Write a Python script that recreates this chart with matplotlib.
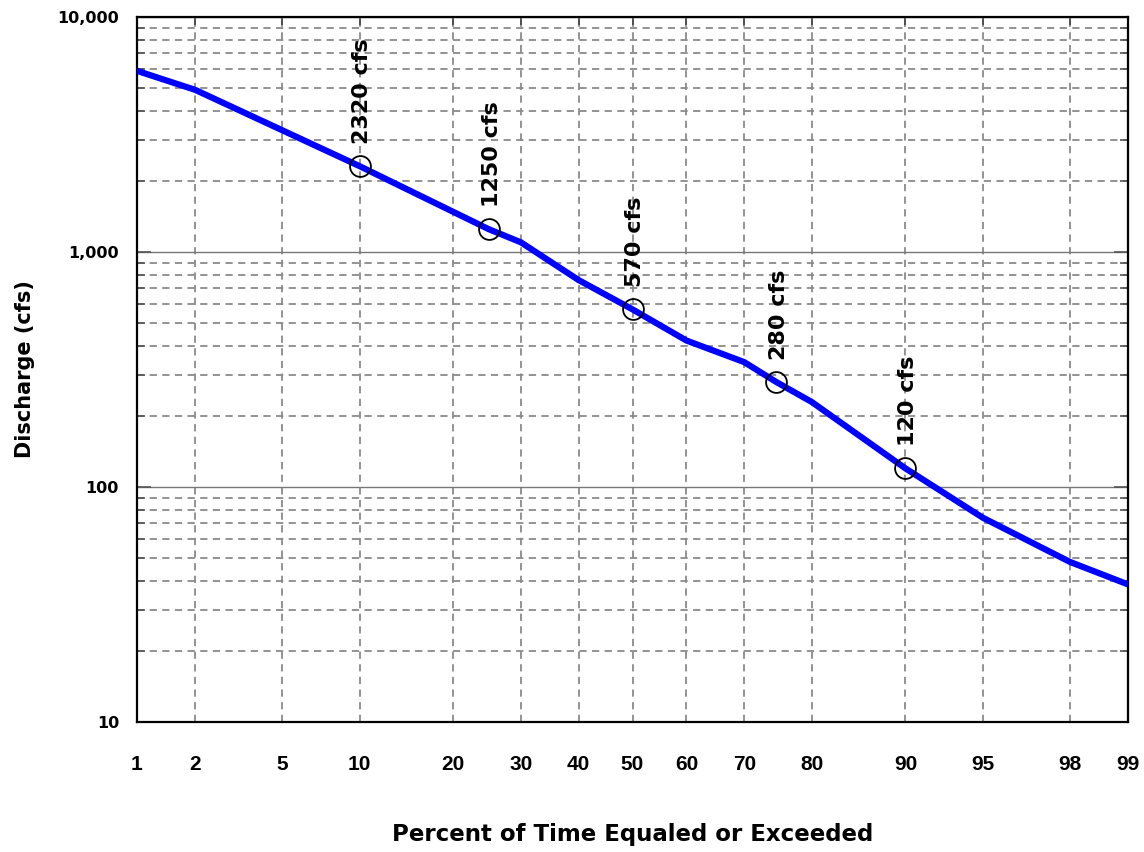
import numpy as np
import matplotlib
matplotlib.use("Agg")
import matplotlib.pyplot as plt
from matplotlib.ticker import FixedLocator, NullFormatter
from statistics import NormalDist

# Flow-duration data: percent of time equaled or exceeded vs discharge (cfs)
exceed_pct = [1, 2, 10, 25, 30, 40, 50, 60, 70, 75, 80, 90, 95, 98, 99]
discharge = [5900, 4900, 2320, 1250, 1100, 760, 570, 420, 340, 280, 230, 120, 74, 48, 38.5]

# Highlighted duration points
label_pct = [10, 25, 50, 75, 90]
label_cfs = [2320, 1250, 570, 280, 120]

x_ticks = [1, 2, 5, 10, 20, 30, 40, 50, 60, 70, 80, 90, 95, 98, 99]
y_ticks = [10, 100, 1000, 10000]

_nd = NormalDist()
_ppf = np.vectorize(lambda p: _nd.inv_cdf(min(max(p / 100.0, 1e-9), 1 - 1e-9)), otypes=[float])
_cdf = np.vectorize(lambda z: _nd.cdf(z) * 100.0, otypes=[float])


def prob_forward(x):
    return _ppf(np.asarray(x, dtype=float))


def prob_inverse(z):
    return _cdf(np.asarray(z, dtype=float))


fig = plt.figure(figsize=(11.44, 8.52), dpi=100)
ax = fig.add_axes([137 / 1144, 1 - 722 / 852, (1128 - 137) / 1144, (722 - 17) / 852])

ax.set_xscale("function", functions=(prob_forward, prob_inverse))
ax.set_yscale("log")
ax.set_xlim(1, 99)
ax.set_ylim(10, 10000)

grid_col = "#8a8a8a"

# x axis ticks / grid
ax.set_xticks(x_ticks, labels=[f"{v:g}" for v in x_ticks],
              fontsize=15, fontweight="bold", family="Liberation Sans")
ax.xaxis.set_minor_locator(FixedLocator([]))
ax.grid(True, axis="x", which="major", color=grid_col, linestyle=(0, (4, 3)), linewidth=1.3)

# y axis ticks / grid
ax.set_yticks(y_ticks, labels=[f"{v:,}" for v in y_ticks],
              fontsize=11.5, fontweight="bold", family="DejaVu Sans")
minor_y = [m * 10 ** e for e in range(1, 4) for m in range(2, 10)]
ax.yaxis.set_minor_locator(FixedLocator(minor_y))
ax.yaxis.set_minor_formatter(NullFormatter())
ax.set_ylim(10, 10000)
ax.grid(True, axis="y", which="major", color="#777777", linestyle="-", linewidth=1.0)
ax.grid(True, axis="y", which="minor", color=grid_col, linestyle=(0, (4, 3)), linewidth=1.3)
ax.set_axisbelow(True)

ax.tick_params(axis="x", which="major", direction="in", top=True, bottom=False,
               length=6, width=1.2, color="#444444", pad=24)
ax.tick_params(axis="y", which="major", direction="in", left=True, right=True,
               length=10, width=1.2, color="#555555", pad=13)
ax.tick_params(axis="y", which="minor", direction="in", left=True, right=True,
               length=6, width=1.2, color="#555555")

for sp in ax.spines.values():
    sp.set_linewidth(1.6)
    sp.set_color("black")

# duration curve
ax.plot(exceed_pct, discharge, color="#0000FF", linewidth=4.5, solid_capstyle="butt", zorder=3)

# labelled points
ax.plot(label_pct, label_cfs, linestyle="none", marker="o", markersize=15,
        markerfacecolor="none", markeredgecolor="black", markeredgewidth=1.3, zorder=4)
for p, q in zip(label_pct, label_cfs):
    ax.annotate(f"{q} cfs", xy=(p, q), xytext=(2, 16), textcoords="offset points",
                rotation=90, ha="center", va="bottom", fontsize=16,
                fontweight="bold", family="DejaVu Sans", zorder=5)

ax.set_xlabel("Percent of Time Equaled or Exceeded", fontsize=16.5, fontweight="bold",
              family="DejaVu Sans", labelpad=35)
ax.set_ylabel("Discharge (cfs)", fontsize=15, fontweight="bold",
              family="DejaVu Sans", labelpad=16)

fig.savefig("out.png", dpi=100)
